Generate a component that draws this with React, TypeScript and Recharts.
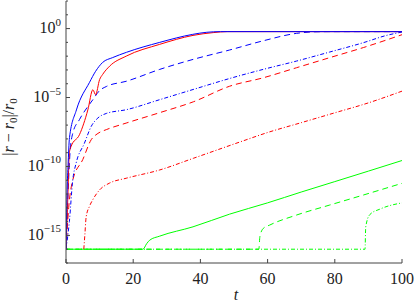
import React from 'react';
import { LineChart, Line, XAxis, YAxis } from 'recharts';

// ---- data (t, |r - r0| / r0) ----
const blueSolidT = [0, 0.3, 0.6, 1.04, 3.1, 7.0, 8.8, 10.9, 13.9, 18, 27.9, 37.7, 41.9, 46, 100];
const blueSolidR = [1e-16, 1e-12, 1e-10, 1.26e-8, 1.26e-6, 1.26e-4, 7.9e-4, 3.5e-3, 7.9e-3, 1.9e-2, 0.1, 0.38, 0.54, 0.6, 0.6];

const redSolidT = [0, 0.3, 0.55, 1.0, 1.5, 4.0, 6.5, 8.0, 8.8, 10, 10.9, 13, 17.9, 27.9, 37.8, 43.8, 48, 100];
const redSolidR = [1e-16, 1e-14, 6e-13, 1e-9, 2.8e-9, 2e-8, 1.26e-6, 3.7e-5, 1.6e-5, 2e-4, 4.7e-4, 1.9e-3, 1e-2, 7.2e-2, 0.32, 0.51, 0.6, 0.6];

const blueDashedT = [0, 0.6, 1.2, 2.0, 4.0, 8.0, 10, 12, 17.9, 27.9, 37.8, 48.7, 58.7, 68.6, 74, 78, 100];
const blueDashedR = [1e-16, 1e-12, 1e-9, 2.5e-8, 2.5e-7, 7e-6, 3.2e-5, 6.3e-5, 1.5e-4, 1.1e-3, 5.8e-3, 2.8e-2, 0.13, 0.45, 0.58, 0.6, 0.6];

const blueDashDotT = [0, 1, 2, 3, 5.5, 7.5, 9.5, 12, 17.9, 27.9, 37.8, 48.7, 58.7, 68.6, 78.5, 88.5, 95.4, 100];
const blueDashDotR = [1e-16, 1e-14, 1e-11, 1.7e-10, 5e-9, 8e-8, 3.3e-7, 7e-7, 1.3e-6, 7e-6, 3.8e-5, 2.4e-4, 1.1e-3, 4.4e-3, 2e-2, 9.5e-2, 0.32, 0.56];

const redDashedT = [0, 0.8, 2.0, 5.0, 7.5, 9.5, 12, 17.9, 27.9, 38, 48.7, 58.7, 68.6, 78.5, 88.5, 100];
const redDashedR = [1e-16, 1e-13, 1e-11, 3.2e-10, 8.7e-9, 2.5e-8, 4.7e-8, 1.4e-7, 8e-7, 5e-6, 6.6e-5, 2.7e-4, 1.45e-3, 7.8e-3, 4.2e-2, 0.36];

const redDashDotT = [5.3, 5.6, 6.0, 7, 8, 10, 13, 17.9, 27.9, 38, 51.7, 60, 70, 80, 90, 100];
const redDashDotR = [1e-16, 1e-15, 2.2e-14, 1.3e-13, 4e-13, 2e-12, 6.3e-12, 1.4e-11, 5.6e-11, 4e-10, 5.9e-9, 2.9e-8, 1.5e-7, 7.8e-7, 4.1e-6, 2.9e-5];

const greenSolidT = [0, 22.9, 24, 24.9, 27.9, 37.8, 48.7, 60, 70, 80, 90, 100];
const greenSolidR = [1e-16, 1e-16, 2.5e-16, 4.5e-16, 8.9e-16, 4.2e-15, 3.5e-14, 2.3e-13, 1.4e-12, 8e-12, 4.6e-11, 2.7e-10];

const greenDashedT = [0, 57.4, 57.7, 58.7, 60.6, 68.6, 78.5, 88.5, 100];
const greenDashedR = [1e-16, 1e-16, 8e-16, 3.2e-15, 5.6e-15, 3e-14, 1.6e-13, 8.5e-13, 6e-12];

const greenDashDotT = [0, 89, 89.2, 90.4, 93.4, 100];
const greenDashDotR = [1e-16, 1e-16, 4e-15, 3.2e-14, 8e-14, 2.3e-13];

const xTicks = [0, 20, 40, 60, 80, 100];
const yTicks = [1e-17, 1e-16, 1e-15, 1e-14, 1e-13, 1e-12, 1e-11, 1e-10, 1e-9, 1e-8, 1e-7, 1e-6, 1e-5, 1e-4, 1e-3, 1e-2, 1e-1, 1, 10, 100];

const BLUE = '#0000ff';
const RED = '#ff0000';
const GREEN = '#00ff00';
const DASHED = '6 4';
const DASHDOT = '4 2 1 2';
const AXIS = '#444';
const FONT = "'Liberation Serif', 'DejaVu Serif', serif";
const TXT = '#222';
const textStyle = { fontFamily: FONT };

const toData = (t: number[], r: number[]) => t.map((v, i) => ({ t: v, r: r[i] }));

const series = [
  { key: 'gs', data: toData(greenSolidT, greenSolidR), color: GREEN, dash: undefined },
  { key: 'gd', data: toData(greenDashedT, greenDashedR), color: GREEN, dash: DASHED },
  { key: 'gdd', data: toData(greenDashDotT, greenDashDotR), color: GREEN, dash: DASHDOT },
  { key: 'rdd', data: toData(redDashDotT, redDashDotR), color: RED, dash: DASHDOT },
  { key: 'rd', data: toData(redDashedT, redDashedR), color: RED, dash: DASHED },
  { key: 'bdd', data: toData(blueDashDotT, blueDashDotR), color: BLUE, dash: DASHDOT },
  { key: 'bd', data: toData(blueDashedT, blueDashedR), color: BLUE, dash: DASHED },
  { key: 'rs', data: toData(redSolidT, redSolidR), color: RED, dash: undefined },
  { key: 'bs', data: toData(blueSolidT, blueSolidR), color: BLUE, dash: undefined },
];

const expOf = (v: number) => Math.round(Math.log10(v));

const YTickLeft = (props: any) => {
  const { x, y, payload } = props;
  const e = expOf(payload.value);
  const major = e % 5 === 0;
  return (
    <g>
      <line x1={x} x2={x + (major ? 4 : 2)} y1={y} y2={y} stroke={AXIS} strokeWidth={1} />
      {major && (
        <text x={x - 5} y={y + 4.5} textAnchor="end" style={textStyle} fontSize={16} fill={TXT}>
          <tspan>10</tspan>
          <tspan dy={-7.5} fontSize={11}>{e === 0 ? '0' : '\u2212' + Math.abs(e)}</tspan>
        </text>
      )}
    </g>
  );
};

const YTickRight = (props: any) => {
  const { x, y, payload } = props;
  const e = expOf(payload.value);
  const major = e % 5 === 0;
  return <line x1={x} x2={x - (major ? 4 : 2)} y1={y} y2={y} stroke={AXIS} strokeWidth={1} />;
};

const XTickBottom = (props: any) => {
  const { x, y, payload } = props;
  return (
    <g>
      <line x1={x} x2={x} y1={y} y2={y - 4} stroke={AXIS} strokeWidth={1} />
      <text x={x} y={y + 21} textAnchor="middle" style={textStyle} fontSize={16} fill={TXT}>
        {payload.value}
      </text>
    </g>
  );
};

const XTickTop = (props: any) => {
  const { x, y } = props;
  return <line x1={x} x2={x} y1={y} y2={y + 4} stroke={AXIS} strokeWidth={1} />;
};

const XTitle = (props: any) => {
  const vb = props.viewBox || {};
  return (
    <text x={vb.x + vb.width / 2 + 2} y={vb.y + 37} textAnchor="middle" style={textStyle} fontSize={16} fontStyle="italic" fill={TXT}>
      t
    </text>
  );
};

const YTitle = (props: any) => {
  const vb = props.viewBox || {};
  const cx = vb.x + 14;
  const cy = vb.y + vb.height / 2 - 5;
  return (
    <text x={cx} y={cy} transform={`rotate(-90, ${cx}, ${cy})`} textAnchor="middle" style={textStyle} fontSize={16} fill={TXT}>
      <tspan>|</tspan>
      <tspan fontStyle="italic">r</tspan>
      <tspan>{' \u2212 '}</tspan>
      <tspan fontStyle="italic">r</tspan>
      <tspan fontSize={11} dy={3}>0</tspan>
      <tspan dy={-3}>|/</tspan>
      <tspan fontStyle="italic">r</tspan>
      <tspan fontSize={11} dy={3}>0</tspan>
    </text>
  );
};

export default function App() {
  return (
    <div style={{ position: 'absolute', left: 0, top: 0, width: 415, height: 306, background: '#fff' }}>
      <LineChart width={415} height={306} margin={{ top: 1, right: 13, bottom: 0, left: 0 }}>
        <XAxis
          xAxisId="bottom"
          dataKey="t"
          type="number"
          domain={[0, 100]}
          ticks={xTicks}
          interval={0}
          allowDataOverflow
          height={43}
          tickSize={0}
          tickMargin={0}
          tickLine={false}
          axisLine={{ stroke: AXIS, strokeWidth: 1 }}
          tick={<XTickBottom />}
          label={{ content: <XTitle /> } as any}
        />
        <XAxis
          xAxisId="top"
          orientation="top"
          dataKey="t"
          type="number"
          domain={[0, 100]}
          ticks={xTicks}
          interval={0}
          allowDataOverflow
          height={0}
          tickSize={0}
          tickMargin={0}
          tickLine={false}
          axisLine={{ stroke: AXIS, strokeWidth: 1 }}
          tick={<XTickTop />}
        />
        <YAxis
          yAxisId="left"
          type="number"
          scale="log"
          domain={[1e-17, 100]}
          ticks={yTicks}
          interval={0}
          allowDataOverflow
          width={66}
          tickSize={0}
          tickMargin={0}
          tickLine={false}
          axisLine={{ stroke: AXIS, strokeWidth: 1 }}
          tick={<YTickLeft />}
          label={{ content: <YTitle /> } as any}
        />
        <YAxis
          yAxisId="right"
          orientation="right"
          type="number"
          scale="log"
          domain={[1e-17, 100]}
          ticks={yTicks}
          interval={0}
          allowDataOverflow
          width={0}
          tickSize={0}
          tickMargin={0}
          tickLine={false}
          axisLine={{ stroke: AXIS, strokeWidth: 1 }}
          tick={<YTickRight />}
        />
        {series.map((s) => (
          <Line
            key={s.key}
            xAxisId="bottom"
            yAxisId="left"
            data={s.data}
            dataKey="r"
            type="monotoneX"
            stroke={s.color}
            strokeWidth={1}
            strokeDasharray={s.dash}
            dot={false}
            activeDot={false}
            isAnimationActive={false}
          />
        ))}
      </LineChart>
    </div>
  );
}
